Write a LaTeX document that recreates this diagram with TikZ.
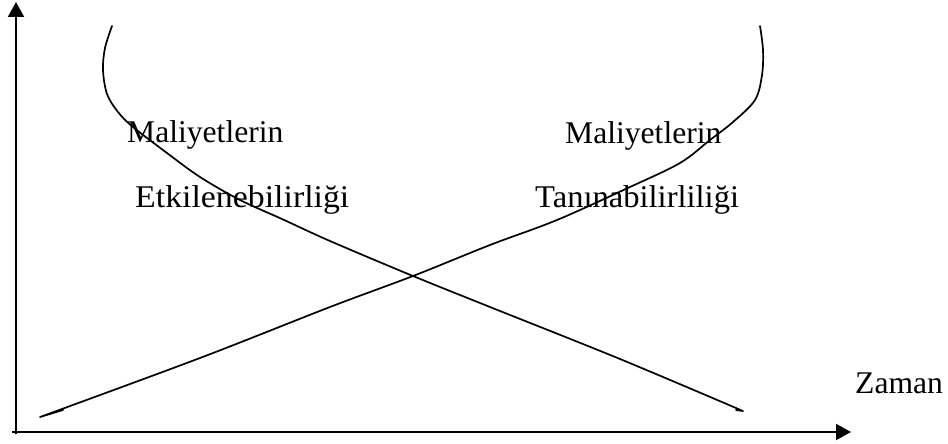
\documentclass[tikz,border=0pt]{standalone}
\usepackage{fontspec}
\setmainfont{Liberation Serif}
\usetikzlibrary{arrows.meta}
\begin{document}
\begin{tikzpicture}[x=1pt,y=-1pt,
  axis/.style={line width=2pt,-{Triangle[length=15pt,width=16pt]}},
  costcurve/.style={line width=1.7pt,line cap=round,line join=round},
  label/.style={anchor=base west,inner sep=0pt,font=\fontsize{31.6}{38}\selectfont}]
  \useasboundingbox (0,0) rectangle (948,444);

  % axes
  \coordinate (xstart) at (12,432);
  \coordinate (xend) at (851,432);
  \coordinate (ystart) at (16,434);
  \coordinate (yend) at (16,2);
  \draw[axis] (ystart) -- (yend);
  \draw[axis] (xstart) -- (xend);

  % influence on costs: high early, falling with time
  \draw[costcurve] plot[smooth,tension=0.55] coordinates {
    (112,26) (105,48) (103,70) (107,94) (118,112) (133,127) (167,153)
    (200,177) (240,200) (282,219) (330,241) (413,276) (490,307)
    (620,359) (743,411)} -- (736,410);

  % recognisability of costs: low early, rising with time
  \draw[costcurve] plot[smooth,tension=0.55] coordinates {
    (760,26) (763,50) (762,75) (755,100) (733,122) (710,140) (680,163)
    (630,187) (557,220) (490,245) (413,276) (330,307) (200,358)
    (40,417)} -- (63,410);

  % labels
  \node[label] (m1) at (127,142) {Maliyetlerin};
  \node[label] (e1) at (135,207) {\scalebox{1.07}[1]{Etkilenebilirliği}};
  \node[label] (m2) at (565,143) {Maliyetlerin};
  \node[label] (t2) at (535,207) {\scalebox{1.03}[1]{Tanınabilirliliği}};
  \node[label] (zaman) at (855,393) {Zaman};
\end{tikzpicture}
\end{document}
